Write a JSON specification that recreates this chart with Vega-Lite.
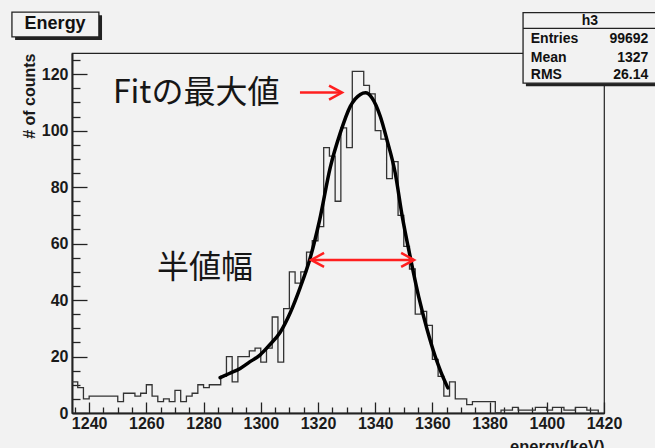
{
  "$schema": "https://vega.github.io/schema/vega-lite/v6.json",
  "width": 532,
  "height": 360,
  "autosize": {"type": "none"},
  "padding": {"left": 72, "top": 53, "right": 51, "bottom": 35},
  "background": "#f2f2f2",
  "config": {
    "view": {"stroke": "#222222", "strokeWidth": 1.2, "fill": "#f2f2f2"},
    "font": "Liberation Sans",
    "axis": {
      "labelFont": "Liberation Sans",
      "labelFontWeight": "bold",
      "labelColor": "#1a1a1a",
      "titleFont": "Liberation Sans",
      "titleFontWeight": "bold",
      "titleColor": "#1a1a1a",
      "domainColor": "#222222",
      "tickColor": "#222222",
      "grid": false
    }
  },
  "datasets": {
    "hist": [
      {"e":1234,"n":11},{"e":1236,"n":9},{"e":1238,"n":5},{"e":1240,"n":6},{"e":1242,"n":6},
      {"e":1244,"n":6},{"e":1246,"n":6},{"e":1248,"n":6},{"e":1250,"n":4},{"e":1252,"n":7},
      {"e":1254,"n":7},{"e":1256,"n":6},{"e":1258,"n":7},{"e":1260,"n":10},{"e":1262,"n":6},
      {"e":1264,"n":4},{"e":1266,"n":5},{"e":1268,"n":4},{"e":1270,"n":8},{"e":1272,"n":4},
      {"e":1274,"n":6},{"e":1276,"n":7},{"e":1278,"n":10},{"e":1280,"n":9},{"e":1282,"n":10},
      {"e":1284,"n":10},{"e":1286,"n":13},{"e":1288,"n":20},{"e":1290,"n":11},{"e":1292,"n":20},
      {"e":1294,"n":20},{"e":1296,"n":22},{"e":1298,"n":23},{"e":1300,"n":18},{"e":1302,"n":23},
      {"e":1304,"n":34},{"e":1306,"n":18},{"e":1308,"n":37},{"e":1310,"n":50},{"e":1312,"n":46},
      {"e":1314,"n":50},{"e":1316,"n":57},{"e":1318,"n":61},{"e":1320,"n":66},{"e":1322,"n":94},
      {"e":1324,"n":91},{"e":1326,"n":75},{"e":1328,"n":101},{"e":1330,"n":94},{"e":1332,"n":121},
      {"e":1334,"n":121},{"e":1336,"n":116},{"e":1338,"n":113},{"e":1340,"n":100},{"e":1342,"n":97},
      {"e":1344,"n":83},{"e":1346,"n":89},{"e":1348,"n":70},{"e":1350,"n":59},{"e":1352,"n":51},
      {"e":1354,"n":35},{"e":1356,"n":36},{"e":1358,"n":31},{"e":1360,"n":19},{"e":1362,"n":13},
      {"e":1364,"n":6},{"e":1366,"n":11},{"e":1368,"n":5},{"e":1370,"n":5},{"e":1372,"n":3},
      {"e":1374,"n":4},{"e":1376,"n":4},{"e":1378,"n":4},{"e":1380,"n":4},{"e":1382,"n":0},
      {"e":1384,"n":1},{"e":1386,"n":1},{"e":1388,"n":2},{"e":1390,"n":1},{"e":1392,"n":1},
      {"e":1394,"n":1},{"e":1396,"n":2},{"e":1398,"n":2},{"e":1400,"n":1},{"e":1402,"n":2},
      {"e":1404,"n":2},{"e":1406,"n":1},{"e":1408,"n":1},{"e":1410,"n":2},{"e":1412,"n":2},
      {"e":1414,"n":1},{"e":1416,"n":1},{"e":1418,"n":0}
    ],
    "fit": [
      {"e":1285.8,"n":12.5},{"e":1289,"n":14},{"e":1292.8,"n":15.8},{"e":1296,"n":18},
      {"e":1299.8,"n":20.6},{"e":1303,"n":24},{"e":1306.8,"n":28.6},{"e":1310.3,"n":35.5},
      {"e":1313.8,"n":44.5},{"e":1317.3,"n":55},{"e":1320.5,"n":68},{"e":1324.3,"n":87},
      {"e":1327.8,"n":99.2},{"e":1331.3,"n":108.6},{"e":1334.8,"n":112.8},{"e":1336.6,"n":113.4},
      {"e":1338.9,"n":111.6},{"e":1341.8,"n":105},{"e":1344.1,"n":96.8},{"e":1347,"n":85},
      {"e":1349.4,"n":70},{"e":1352.3,"n":55},{"e":1355.2,"n":41.2},{"e":1358.2,"n":29.4},
      {"e":1361,"n":20},{"e":1363,"n":14.5},{"e":1365.4,"n":8.9}
    ],
    "arrows": [
      {"e1":1313.7,"e2":1328.4,"n":113.5},
      {"e1":1317.6,"e2":1353.6,"n":54.2}
    ],
    "heads": [
      {"e":1328.4,"n":113.5,"dir":"right"},
      {"e":1353.6,"n":54.2,"dir":"right"},
      {"e":1317.6,"n":54.2,"dir":"left"}
    ],
    "notes": [
      {"e":1248.3,"n":113.3,"text":"Fitの最大値"},
      {"e":1263.7,"n":51.4,"text":"半値幅"}
    ],
    "boxes": [
      {"name":"title","e1":1213.0,"e2":1243.4,"n1":133.2,"n2":142.0},
      {"name":"stats","e1":1391.7,"e2":1438.5,"n1":116.8,"n2":141.8}
    ],
    "shadows": [
      {"name":"title","e1":1214.1,"e2":1244.5,"n1":132.1,"n2":140.9},
      {"name":"stats","e1":1392.7,"e2":1439.5,"n1":115.7,"n2":140.7}
    ],
    "statsRows": [
      {"label":"Entries","value":"99692","n":132.5},
      {"label":"Mean","value":"1327","n":125.6},
      {"label":"RMS","value":"26.14","n":119.7}
    ],
    "statsHead": [
      {"text":"h3","e":1415.1,"n":139.0,"e1":1391.7,"e2":1438.5,"ln":136.2}
    ],
    "titleText": [
      {"text":"Energy","e":1228.1,"n":137.6}
    ]
  },
  "layer": [
    {
      "data": {"name": "hist"},
      "mark": {"type": "line", "interpolate": "step-after", "stroke": "#333333", "strokeWidth": 1.3},
      "encoding": {
        "x": {
          "field": "e", "type": "quantitative",
          "scale": {"domain": [1234, 1420], "nice": false, "zero": false},
          "axis": {
            "orient": "bottom",
            "values": [1235,1240,1245,1250,1255,1260,1265,1270,1275,1280,1285,1290,1295,1300,1305,1310,1315,1320,1325,1330,1335,1340,1345,1350,1355,1360,1365,1370,1375,1380,1385,1390,1395,1400,1405,1410,1415,1420],
            "labelExpr": "datum.value % 20 === 0 ? '' + datum.value : ''",
            "tickSize": {"condition": {"test": "datum.value % 20 === 0", "value": -11}, "value": -6},
            "tickWidth": 1.3,
            "domainWidth": 2,
            "labelFontSize": 16,
            "labelPadding": 13,
            "labelOverlap": false,
            "labelBound": false,
            "labelFlush": false,
            "title": "energy(keV)",
            "titleFontSize": 16.5,
            "titleAnchor": "end",
            "titlePadding": 2
          }
        },
        "y": {
          "field": "n", "type": "quantitative",
          "scale": {"domain": [0, 127.5], "nice": false, "zero": true},
          "axis": {
            "orient": "left",
            "values": [0,5,10,15,20,25,30,35,40,45,50,55,60,65,70,75,80,85,90,95,100,105,110,115,120,125],
            "labelExpr": "datum.value % 20 === 0 ? '' + datum.value : ''",
            "tickSize": {"condition": {"test": "datum.value % 20 === 0", "value": -15}, "value": -8},
            "tickWidth": 1.3,
            "domainWidth": 2,
            "labelFontSize": 16,
            "labelPadding": 19,
            "labelOverlap": false,
            "labelBound": false,
            "labelFlush": false,
            "title": "# of counts",
            "titleFontSize": 16,
            "titleAnchor": "end",
            "titlePadding": 4
          }
        }
      }
    },
    {
      "data": {"name": "fit"},
      "mark": {"type": "line", "interpolate": "monotone", "stroke": "#000000", "strokeWidth": 3.5, "strokeCap": "round"},
      "encoding": {
        "x": {"field": "e", "type": "quantitative", "axis": null},
        "y": {"field": "n", "type": "quantitative", "axis": null}
      }
    },
    {
      "data": {"name": "arrows"},
      "mark": {"type": "rule", "stroke": "#ff1f1f", "strokeWidth": 2.5},
      "encoding": {
        "x": {"field": "e1", "type": "quantitative", "axis": null},
        "x2": {"field": "e2"},
        "y": {"field": "n", "type": "quantitative", "axis": null}
      }
    },
    {
      "data": {"name": "heads"},
      "transform": [{"filter": "datum.dir === 'right'"}],
      "mark": {"type": "point", "shape": "M-1.85,-1L0,0L-1.85,1", "filled": false, "stroke": "#ff1f1f", "strokeWidth": 2.5, "size": 196, "opacity": 1},
      "encoding": {
        "x": {"field": "e", "type": "quantitative", "axis": null},
        "y": {"field": "n", "type": "quantitative", "axis": null}
      }
    },
    {
      "data": {"name": "heads"},
      "transform": [{"filter": "datum.dir === 'left'"}],
      "mark": {"type": "point", "shape": "M1.85,-1L0,0L1.85,1", "filled": false, "stroke": "#ff1f1f", "strokeWidth": 2.5, "size": 196, "opacity": 1},
      "encoding": {
        "x": {"field": "e", "type": "quantitative", "axis": null},
        "y": {"field": "n", "type": "quantitative", "axis": null}
      }
    },
    {
      "data": {"name": "notes"},
      "mark": {"type": "text", "font": "Noto Sans CJK JP", "fontSize": 32, "align": "left", "baseline": "middle", "color": "#161616"},
      "encoding": {
        "x": {"field": "e", "type": "quantitative", "axis": null},
        "y": {"field": "n", "type": "quantitative", "axis": null},
        "text": {"field": "text"}
      }
    },
    {
      "data": {"name": "shadows"},
      "mark": {"type": "rect", "fill": "#222222"},
      "encoding": {
        "x": {"field": "e1", "type": "quantitative", "axis": null},
        "x2": {"field": "e2"},
        "y": {"field": "n1", "type": "quantitative", "axis": null},
        "y2": {"field": "n2"}
      }
    },
    {
      "data": {"name": "boxes"},
      "mark": {"type": "rect", "fill": "#f2f2f2", "stroke": "#222222", "strokeWidth": 1.3},
      "encoding": {
        "x": {"field": "e1", "type": "quantitative", "axis": null},
        "x2": {"field": "e2"},
        "y": {"field": "n1", "type": "quantitative", "axis": null},
        "y2": {"field": "n2"}
      }
    },
    {
      "data": {"name": "titleText"},
      "mark": {"type": "text", "font": "Liberation Sans", "fontWeight": "bold", "fontSize": 18, "align": "center", "baseline": "middle", "color": "#111111"},
      "encoding": {
        "x": {"field": "e", "type": "quantitative", "axis": null},
        "y": {"field": "n", "type": "quantitative", "axis": null},
        "text": {"field": "text"}
      }
    },
    {
      "data": {"name": "statsHead"},
      "mark": {"type": "rule", "stroke": "#222222", "strokeWidth": 1.2},
      "encoding": {
        "x": {"field": "e1", "type": "quantitative", "axis": null},
        "x2": {"field": "e2"},
        "y": {"field": "ln", "type": "quantitative", "axis": null}
      }
    },
    {
      "data": {"name": "statsHead"},
      "mark": {"type": "text", "font": "Liberation Sans", "fontWeight": "bold", "fontSize": 14, "align": "center", "baseline": "middle", "color": "#111111"},
      "encoding": {
        "x": {"field": "e", "type": "quantitative", "axis": null},
        "y": {"field": "n", "type": "quantitative", "axis": null},
        "text": {"field": "text"}
      }
    },
    {
      "data": {"name": "statsRows"},
      "mark": {"type": "text", "font": "Liberation Sans", "fontWeight": "bold", "fontSize": 14, "align": "left", "baseline": "middle", "color": "#111111"},
      "encoding": {
        "x": {"datum": 1394.4, "type": "quantitative", "axis": null},
        "y": {"field": "n", "type": "quantitative", "axis": null},
        "text": {"field": "label"}
      }
    },
    {
      "data": {"name": "statsRows"},
      "mark": {"type": "text", "font": "Liberation Sans", "fontWeight": "bold", "fontSize": 14, "align": "right", "baseline": "middle", "color": "#111111"},
      "encoding": {
        "x": {"datum": 1435.5, "type": "quantitative", "axis": null},
        "y": {"field": "n", "type": "quantitative", "axis": null},
        "text": {"field": "value"}
      }
    }
  ],
  "resolve": {"axis": {"x": "independent", "y": "independent"}}
}
